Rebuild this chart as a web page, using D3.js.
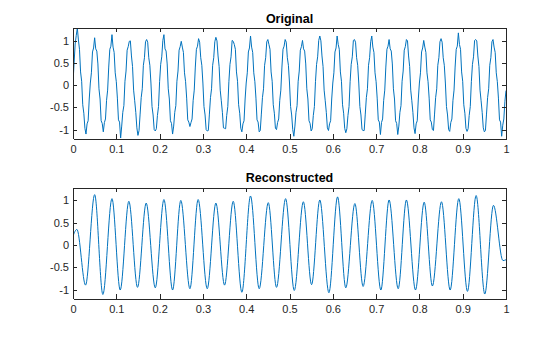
<!DOCTYPE html>
<html>
<head>
<meta charset="utf-8">
<script src="https://cdn.jsdelivr.net/npm/d3@7"></script>
<style>
  body { margin: 0; background: #fff; }
  svg { display: block; }
  text { font-family: "Liberation Sans", Arial, Helvetica, sans-serif; }
</style>
</head>
<body>
<svg id="chart" width="560" height="337"></svg>
<script>
// ---- data -------------------------------------------------------------
const xTicks = [0, 0.1, 0.2, 0.3, 0.4, 0.5, 0.6, 0.7, 0.8, 0.9, 1];
const yTicks = [-1, -0.5, 0, 0.5, 1];
const yLimits = [-1.2, 1.29];
const xLimits = [0, 1];
const panelTitles = ["Original", "Reconstructed"];

// measured signal, sampled every 2.5 ms from t = 0 to t = 1
const sampleStep = 0.0025;
const originalValues = [
  0.05, 0.50, 0.93, 1.12,
  1.29, 1.02, 0.81, 0.30, 0.09, -0.44, -0.63, -0.97,
  -1.10, -0.87, -0.80, -0.31, 0.05, 0.28, 0.75, 0.84,
  1.07, 0.82, 0.77, 0.48, -0.08, -0.31, -0.80, -0.86,
  -1.05, -0.84, -0.76, -0.34, -0.11, 0.41, 0.81, 0.88,
  1.14, 0.86, 0.74, 0.28, 0.08, -0.29, -0.78, -0.83,
  -1.19, -0.92, -0.61, -0.46, 0.09, 0.32, 0.79, 0.87,
  0.99, 1.00, 0.66, 0.42, -0.11, -0.35, -0.61, -0.96,
  -1.13, -1.02, -0.65, -0.28, -0.08, 0.45, 0.62, 0.98,
  1.03, 0.97, 0.62, 0.45, 0.05, -0.48, -0.67, -1.00,
  -1.03, -0.98, -0.68, -0.48, 0.08, 0.47, 0.64, 1.01,
  1.14, 0.82, 0.77, 0.48, -0.08, -0.31, -0.80, -0.86,
  -1.10, -0.92, -0.61, -0.46, 0.09, 0.32, 0.79, 0.87,
  0.99, 0.86, 0.74, 0.28, 0.08, -0.29, -0.78, -0.83,
  -0.93, -0.84, -0.76, -0.34, -0.11, 0.41, 0.81, 0.88,
  1.05, 0.97, 0.62, 0.45, 0.05, -0.48, -0.67, -1.00,
  -1.03, -1.02, -0.65, -0.28, -0.08, 0.45, 0.62, 0.98,
  1.08, 1.00, 0.66, 0.42, -0.11, -0.35, -0.61, -0.96,
  -0.97, -0.98, -0.68, -0.48, 0.08, 0.47, 0.64, 1.01,
  0.99, 0.92, 0.81, 0.30, 0.09, -0.44, -0.63, -0.97,
  -1.05, -0.87, -0.80, -0.31, 0.05, 0.28, 0.75, 0.84,
  1.11, 0.86, 0.74, 0.28, 0.08, -0.29, -0.78, -0.83,
  -1.05, -1.02, -0.65, -0.28, -0.08, 0.45, 0.62, 0.98,
  1.03, 0.92, 0.81, 0.30, 0.09, -0.44, -0.63, -0.97,
  -1.00, -0.84, -0.76, -0.34, -0.11, 0.41, 0.81, 0.88,
  1.03, 0.97, 0.62, 0.45, 0.05, -0.48, -0.67, -1.00,
  -1.15, -0.92, -0.61, -0.46, 0.09, 0.32, 0.79, 0.87,
  1.01, 0.82, 0.77, 0.48, -0.08, -0.31, -0.80, -0.86,
  -1.03, -0.98, -0.68, -0.48, 0.08, 0.47, 0.64, 1.01,
  1.11, 1.00, 0.66, 0.42, -0.11, -0.35, -0.61, -0.96,
  -1.02, -0.87, -0.80, -0.31, 0.05, 0.28, 0.75, 0.84,
  1.11, 0.92, 0.81, 0.30, 0.09, -0.44, -0.63, -0.97,
  -1.07, -0.98, -0.68, -0.48, 0.08, 0.47, 0.64, 1.01,
  1.03, 0.97, 0.62, 0.45, 0.05, -0.48, -0.67, -1.00,
  -1.02, -1.02, -0.65, -0.28, -0.08, 0.45, 0.62, 0.98,
  1.11, 0.86, 0.74, 0.28, 0.08, -0.29, -0.78, -0.83,
  -1.11, -0.84, -0.76, -0.34, -0.11, 0.41, 0.81, 0.88,
  1.03, 0.82, 0.77, 0.48, -0.08, -0.31, -0.80, -0.86,
  -1.11, -0.92, -0.61, -0.46, 0.09, 0.32, 0.79, 0.87,
  1.03, 1.00, 0.66, 0.42, -0.11, -0.35, -0.61, -0.96,
  -1.09, -0.87, -0.80, -0.31, 0.05, 0.28, 0.75, 0.84,
  1.01, 0.86, 0.74, 0.28, 0.08, -0.29, -0.78, -0.83,
  -1.00, -1.02, -0.65, -0.28, -0.08, 0.45, 0.62, 0.98,
  1.05, 0.97, 0.62, 0.45, 0.05, -0.48, -0.67, -1.00,
  -1.04, -0.84, -0.76, -0.34, -0.11, 0.41, 0.81, 0.88,
  1.18, 0.92, 0.81, 0.30, 0.09, -0.44, -0.63, -0.97,
  -1.04, -0.98, -0.68, -0.48, 0.08, 0.47, 0.64, 1.01,
  1.03, 1.00, 0.66, 0.42, -0.11, -0.35, -0.61, -0.96,
  -1.05, -1.02, -0.65, -0.28, -0.08, 0.45, 0.62, 0.98,
  1.03, 0.86, 0.74, 0.28, 0.08, -0.29, -0.78, -0.83,
  -1.15, -0.90, -0.76, -0.36, -0.12
];

// reconstructed signal: turning points (time, value)
const reconTimes = [
  0, 0.009, 0.029, 0.050, 0.069, 0.090, 0.109, 0.129, 0.149, 0.169,
  0.190, 0.210, 0.230, 0.249, 0.270, 0.289, 0.310, 0.330, 0.350, 0.370,
  0.390, 0.410, 0.430, 0.451, 0.470, 0.491, 0.511, 0.532, 0.551, 0.570,
  0.591, 0.611, 0.630, 0.651, 0.670, 0.691, 0.711, 0.730, 0.751, 0.770,
  0.791, 0.811, 0.830, 0.851, 0.871, 0.891, 0.911, 0.931, 0.951, 0.971,
  0.993, 1.0
];
const reconValues = [
  0.20, 0.35, -0.90, 1.13, -1.11, 1.04, -1.01, 0.98, -0.95, 0.94,
  -0.96, 1.02, -1.01, 1.00, -0.98, 1.02, -0.98, 0.94, -0.90, 0.98,
  -1.06, 1.10, -0.98, 0.95, -0.95, 1.04, -1.02, 0.97, -0.89, 1.01,
  -1.07, 1.08, -0.96, 0.93, -0.93, 1.00, -1.01, 1.01, -0.98, 1.01,
  -1.01, 0.96, -0.92, 0.97, -1.01, 1.04, -1.04, 1.11, -1.10, 0.89,
  -0.35, -0.33
];

// ---- layout -----------------------------------------------------------
const svg = d3.select("#chart");
const axisColor = "#262626";
const lineColor = "#0072BD";
const left = 73, right = 506;
const panels = [
  { top: 28, bottom: 138.5, title: panelTitles[0],
    points: originalValues.map((v, i) => [i * sampleStep, v]),
    curve: d3.curveLinear },
  { top: 187.5, bottom: 298.5, title: panelTitles[1],
    points: reconTimes.map((t, i) => [t, reconValues[i]]),
    curve: d3.curveMonotoneX }
];

const x = d3.scaleLinear().domain(xLimits).range([left, right]);
const tickLen = 4.3;
const fmt = d => String(d);

panels.forEach((p, idx) => {
  const y = d3.scaleLinear().domain(yLimits).range([p.bottom, p.top]);
  const g = svg.append("g");

  const clipId = "clip" + idx;
  svg.append("clipPath").attr("id", clipId)
    .append("rect").attr("x", left).attr("y", p.top)
    .attr("width", right - left).attr("height", p.bottom - p.top);

  // signal trace
  g.append("path")
    .datum(p.points)
    .attr("clip-path", `url(#${clipId})`)
    .attr("fill", "none")
    .attr("stroke", lineColor)
    .attr("stroke-width", 1)
    .attr("stroke-linejoin", "round")
    .attr("d", d3.line().x(d => x(d[0])).y(d => y(d[1])).curve(p.curve));

  // boxed axes: inward ticks on all four sides, labels on bottom and left
  const styleAxis = sel => {
    sel.select(".domain").attr("stroke", axisColor).attr("stroke-width", 1);
    sel.selectAll(".tick line").attr("stroke", axisColor).attr("stroke-width", 1);
    sel.selectAll(".tick text").attr("fill", axisColor)
      .style("font-size", "11px").style("font-family", '"Liberation Sans", Arial, sans-serif');
  };

  g.append("g").attr("transform", `translate(0,${p.bottom})`)
    .call(d3.axisBottom(x).tickValues(xTicks).tickFormat(fmt)
      .tickSizeInner(-tickLen).tickSizeOuter(0).tickPadding(7))
    .call(styleAxis);
  g.append("g").attr("transform", `translate(0,${p.top})`)
    .call(d3.axisTop(x).tickValues(xTicks).tickFormat("")
      .tickSizeInner(-tickLen).tickSizeOuter(0))
    .call(styleAxis);
  g.append("g").attr("transform", `translate(${left},0)`)
    .call(d3.axisLeft(y).tickValues(yTicks).tickFormat(fmt)
      .tickSizeInner(-tickLen).tickSizeOuter(0).tickPadding(4))
    .call(styleAxis);
  g.append("g").attr("transform", `translate(${right},0)`)
    .call(d3.axisRight(y).tickValues(yTicks).tickFormat("")
      .tickSizeInner(-tickLen).tickSizeOuter(0))
    .call(styleAxis);

  g.selectAll(".domain").attr("shape-rendering", "crispEdges");
  g.selectAll(".tick line").attr("shape-rendering", "crispEdges");

  // panel title
  svg.append("text")
    .attr("x", (left + right) / 2)
    .attr("y", p.top - 5.5)
    .attr("text-anchor", "middle")
    .attr("fill", "#000")
    .style("font-size", "12.5px")
    .style("font-weight", "bold")
    .text(p.title);
});
</script>
</body>
</html>
